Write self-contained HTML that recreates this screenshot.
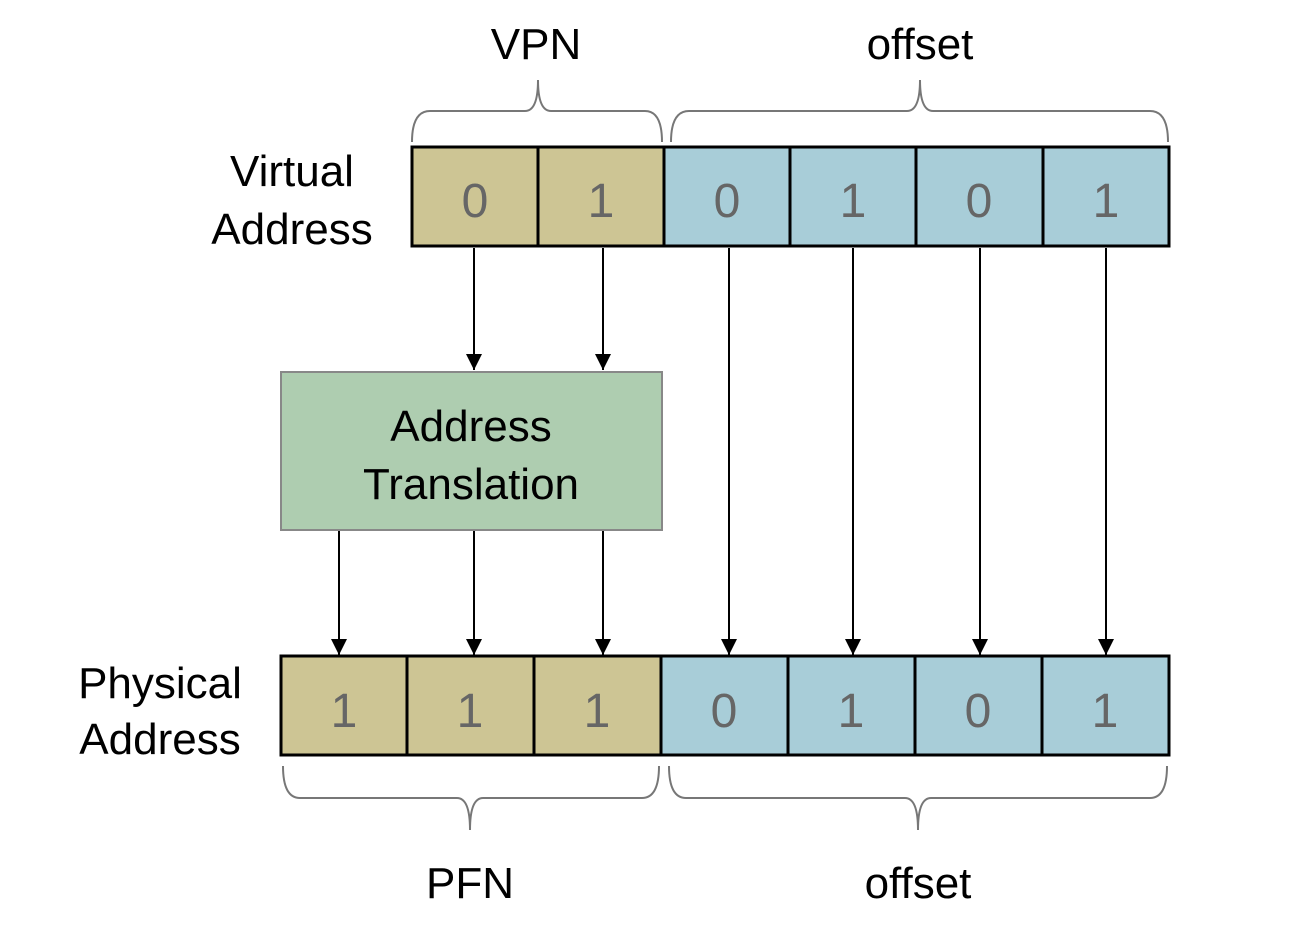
<!DOCTYPE html>
<html><head><style>html,body{margin:0;padding:0;background:#fff}</style></head><body>
<svg width="1310" height="935" viewBox="0 0 1310 935" xmlns="http://www.w3.org/2000/svg" font-family="Liberation Sans, DejaVu Sans, sans-serif">
<defs>
<marker id="b" viewBox="0 0 10 10" markerWidth="16" markerHeight="20" refX="10" refY="5" orient="auto" markerUnits="userSpaceOnUse"><path d="M0,0 L10,5 L0,10 z" fill="#000"/></marker></defs>
<g fill="none" stroke="#777" stroke-width="2">
<path d="M412,142 Q412,111 430,111 L525,111 Q538,111 538,80 Q538,111 551,111 L645,111 Q662,111 662,142"/>
<path d="M671,142 Q671,111 689,111 L907,111 Q920,111 920,80 Q920,111 933,111 L1150,111 Q1168,111 1168,142"/>
<path d="M283,766 Q283,798 300,798 L457,798 Q470,798 470,830 Q470,798 483,798 L642,798 Q659,798 659,766"/>
<path d="M669,766 Q669,798 686,798 L905,798 Q918,798 918,830 Q918,798 931,798 L1150,798 Q1167,798 1167,766"/>
</g>
<g stroke="#000" stroke-width="3">
<rect x="412" y="147" width="252" height="99" fill="#cdc594"/>
<rect x="664" y="147" width="505" height="99" fill="#a8cdd8"/>
<line x1="538" y1="147" x2="538" y2="246"/><line x1="790" y1="147" x2="790" y2="246"/><line x1="916" y1="147" x2="916" y2="246"/><line x1="1043" y1="147" x2="1043" y2="246"/>
<rect x="281" y="656" width="380" height="99" fill="#cdc594"/>
<rect x="661" y="656" width="508" height="99" fill="#a8cdd8"/>
<line x1="407" y1="656" x2="407" y2="755"/><line x1="534" y1="656" x2="534" y2="755"/><line x1="788" y1="656" x2="788" y2="755"/><line x1="915" y1="656" x2="915" y2="755"/><line x1="1042" y1="656" x2="1042" y2="755"/>
</g>
<rect x="281" y="372" width="381" height="158" fill="#aecdb0" stroke="#888" stroke-width="2"/>
<g stroke="#000" stroke-width="2" marker-end="url(#b)">
<line x1="474" y1="248" x2="474" y2="370"/><line x1="603" y1="248" x2="603" y2="370"/>
<line x1="339" y1="531" x2="339" y2="655"/><line x1="474" y1="531" x2="474" y2="655"/><line x1="603" y1="531" x2="603" y2="655"/>
<line x1="729" y1="248" x2="729" y2="655"/><line x1="853" y1="248" x2="853" y2="655"/><line x1="980" y1="248" x2="980" y2="655"/><line x1="1106" y1="248" x2="1106" y2="655"/>
</g>
<g fill="#666" font-size="48" text-anchor="middle">
<text x="475" y="217">0</text><text x="601" y="217">1</text><text x="727" y="217">0</text><text x="853" y="217">1</text><text x="979" y="217">0</text><text x="1106" y="217">1</text>
<text x="344" y="727">1</text><text x="470" y="727">1</text><text x="597" y="727">1</text><text x="724" y="727">0</text><text x="851" y="727">1</text><text x="978" y="727">0</text><text x="1105" y="727">1</text>
</g>
<g fill="#000" font-size="44" text-anchor="middle">
<text x="536" y="59">VPN</text><text x="920" y="59">offset</text>
<text x="292" y="186">Virtual</text><text x="292" y="244">Address</text>
<text x="471" y="441">Address</text><text x="471" y="499">Translation</text>
<text x="160" y="698">Physical</text><text x="160" y="754">Address</text>
<text x="470" y="898">PFN</text><text x="918" y="898">offset</text>
</g>
</svg>
</body></html>
